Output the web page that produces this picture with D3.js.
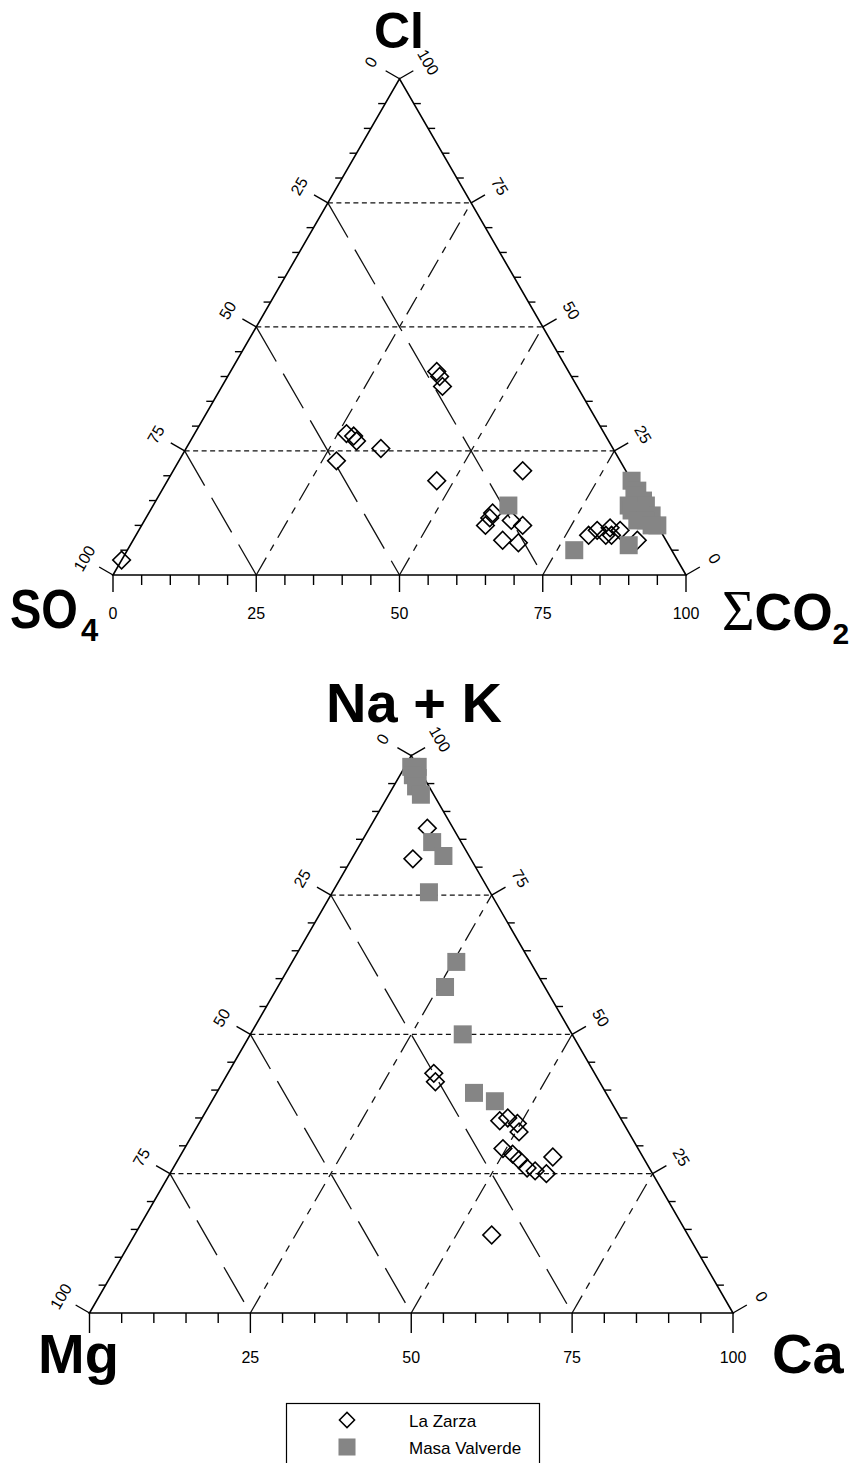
<!DOCTYPE html>
<html>
<head>
<meta charset="utf-8">
<script src="https://cdn.jsdelivr.net/npm/d3@7"></script>
<style>
  html, body { margin: 0; padding: 0; background: #fff; }
  svg { display: block; font-family: "Liberation Sans", Arial, Helvetica, sans-serif; }
</style>
</head>
<body>
<svg id="chart" width="850" height="1463"></svg>
<script>
// anion triangle, each point is [SO4, ΣCO2, Cl] in %
const laZarzaAnions = [
  [23, 36, 41], [23, 37, 40], [23.5, 38.5, 38],
  [45, 26.5, 28.5], [44, 28, 28], [44, 29, 27], [40.5, 34, 25.5], [49.5, 27.5, 23],
  [34, 47, 19], [18, 61, 21],
  [27.5, 60, 12.5], [30, 60, 10], [28.5, 60, 11.5], [25, 64, 11], [23.5, 66.5, 10],
  [28.5, 64.5, 7], [26, 67.5, 6.5],
  [13, 79, 8], [11, 80, 9], [10, 82, 8], [8.5, 82, 9.5], [9, 83, 8], [7, 84, 9], [5, 88, 7],
  [97, 0, 3]
];
const valverdeAnions = [
  [0, 81, 19], [0, 83, 17], [0, 85, 15], [0, 86, 14], [0, 88, 12],
  [1, 83, 16], [1, 85, 14], [3, 83, 14], [3, 84, 13], [3, 86, 11],
  [1.5, 87.5, 11], [0, 90, 10], [1, 89, 10], [7, 87, 6],
  [24, 62, 14], [17, 78, 5]
];
// cation triangle, each point is [Mg, Ca, Na + K] in %
const laZarzaCations = [
  [4, 9, 87], [9, 9.5, 81.5],
  [25, 32, 43], [25.5, 33, 41.5],
  [19, 46.5, 34.5], [17.5, 47.5, 35], [16.5, 49.5, 34], [17, 50.5, 32.5],
  [21, 49.5, 29.5], [20, 51.5, 28.5], [19.5, 53, 27.5], [19, 55, 26],
  [18, 56.5, 25.5], [16.5, 58.5, 25], [14, 58, 28],
  [30.5, 55.5, 14]
];
const valverdeCations = [
  [1, 1, 98], [0, 2, 98], [1.5, 2, 96.5], [1, 3, 96], [2, 3.5, 94.5], [2, 5, 93],
  [4.5, 11, 84.5], [4, 14, 82], [9.5, 15, 75.5],
  [11.5, 25.5, 63], [15.5, 26, 58.5], [17, 33, 50],
  [20.5, 40, 39.5], [18, 44, 38]
];

const gridLevels = [25, 50, 75];
const minorSteps = d3.range(0, 101, 5);
const sideLabels = [0, 25, 50, 75, 100];
const baseLabelsTop = [0, 25, 50, 75, 100];
const baseLabelsBottom = [25, 50, 75, 100];
const legendNames = ["La Zarza", "Masa Valverde"];

const GREY = "#858585";
const svg = d3.select("#chart");
const diamond = d3.symbol().type(d3.symbolSquare).size(155);
const square = d3.symbol().type(d3.symbolSquare).size(324);

function ternary(o) {
  const g = svg.append("g");
  const w = o.x1 - o.x0, h = w * Math.sqrt(3) / 2;
  const xs = d3.scaleLinear().domain([0, 100]).range([o.x0, o.x1]);
  const ys = d3.scaleLinear().domain([0, 100]).range([o.yBase, o.yBase - h]);
  // d = [left corner, right corner, apex]
  const P = (d) => {
    const s = d[0] + d[1] + d[2];
    const b = d[1] / s * 100, c = d[2] / s * 100;
    return [xs(b + c / 2), ys(c)];
  };
  const line = d3.line();
  const c30 = Math.cos(Math.PI / 6), s30 = 0.5;

  // grid
  const grid = g.append("g").attr("fill", "none").attr("stroke", "#111").attr("stroke-width", 1.3);
  grid.selectAll(".gh").data(gridLevels).join("path").attr("stroke-dasharray", "5,3.5")
    .attr("d", (v) => line([P([100 - v, 0, v]), P([0, 100 - v, v])]));
  grid.selectAll(".gl").data(gridLevels).join("path").attr("stroke-dasharray", "40,14")
    .attr("d", (v) => line([P([v, 0, 100 - v]), P([v, 100 - v, 0])]));
  grid.selectAll(".gr").data(gridLevels).join("path").attr("stroke-dasharray", "20,8,7,8")
    .attr("d", (v) => line([P([100 - v, v, 0]), P([0, v, 100 - v])]));

  // frame
  g.append("path").attr("fill", "none").attr("stroke", "#000").attr("stroke-width", 1.6)
    .attr("d", line([P([100, 0, 0]), P([0, 100, 0]), P([0, 0, 100])]) + "Z");

  // ticks
  const tk = g.append("g").attr("stroke", "#000").attr("stroke-width", 1.4);
  const major = (v) => v % 25 === 0;
  tk.selectAll(".tb").data(minorSteps).join("line")
    .attr("x1", (v) => xs(v)).attr("x2", (v) => xs(v))
    .attr("y1", o.yBase).attr("y2", (v) => o.yBase + (major(v) ? o.tick : 10));
  tk.selectAll(".tl").data(minorSteps).join("line")
    .each(function (v) {
      const p = P([v, 0, 100 - v]);
      const q = major(v) ? [p[0] - c30 * 16, p[1] - s30 * 16] : [p[0] - 7, p[1]];
      d3.select(this).attr("x1", p[0]).attr("y1", p[1]).attr("x2", q[0]).attr("y2", q[1]);
    });
  tk.selectAll(".tr").data(minorSteps).join("line")
    .each(function (v) {
      const p = P([0, 100 - v, v]);
      const q = major(v) ? [p[0] + c30 * 16, p[1] - s30 * 16] : [p[0] + 7, p[1]];
      d3.select(this).attr("x1", p[0]).attr("y1", p[1]).attr("x2", q[0]).attr("y2", q[1]);
    });

  // tick labels
  const lab = g.append("g").attr("font-size", 16).attr("fill", "#000")
    .attr("text-anchor", "middle").attr("dominant-baseline", "central");
  lab.selectAll(".ll").data(sideLabels).join("text")
    .attr("transform", (v) => {
      const p = P([v, 0, 100 - v]);
      return `translate(${p[0] - c30 * 33},${p[1] - s30 * 33}) rotate(-60)`;
    }).text((v) => v);
  lab.selectAll(".lr").data(sideLabels).join("text")
    .attr("transform", (v) => {
      const p = P([0, 100 - v, v]);
      return `translate(${p[0] + c30 * 33},${p[1] - s30 * 33}) rotate(60)`;
    }).text((v) => v);
  g.append("g").attr("font-size", 16).attr("text-anchor", "middle")
    .selectAll("text").data(o.baseLabels).join("text")
    .attr("x", (v) => xs(v)).attr("y", o.yBase + o.labelDy).text((v) => v);

  // points
  const pts = g.append("g");
  pts.selectAll(".dz").data(o.diamonds).join("path")
    .attr("d", diamond).attr("fill", "none").attr("stroke", "#000").attr("stroke-width", 1.6)
    .attr("transform", (d) => { const p = P(d); return `translate(${p[0]},${p[1]}) rotate(45)`; });
  pts.selectAll(".sq").data(o.squares).join("path")
    .attr("d", square).attr("fill", GREY)
    .attr("transform", (d) => { const p = P(d); return `translate(${p[0]},${p[1]})`; });
  return g;
}

ternary({ x0: 113, x1: 686, yBase: 575, tick: 17, labelDy: 44,
  baseLabels: baseLabelsTop, diamonds: laZarzaAnions, squares: valverdeAnions });
ternary({ x0: 89.5, x1: 733, yBase: 1313, tick: 20, labelDy: 50,
  baseLabels: baseLabelsBottom, diamonds: laZarzaCations, squares: valverdeCations });

// corner titles
const ttl = svg.append("g").attr("font-weight", "bold").attr("fill", "#000");
ttl.append("text").attr("x", 399).attr("y", 48).attr("text-anchor", "middle").attr("font-size", 50).text("Cl");
ttl.append("text").attr("transform", "translate(10,628) scale(0.84,1)").attr("font-size", 56).text("SO");
ttl.append("text").attr("x", 81).attr("y", 641).attr("font-size", 31).text("4");
const co2 = ttl.append("text").attr("x", 722).attr("y", 630).attr("font-size", 52);
co2.append("tspan").attr("font-family", "'Liberation Serif', 'Times New Roman', serif")
  .attr("font-weight", "normal").attr("font-size", 56).text("Σ");
co2.append("tspan").text("CO");
co2.append("tspan").attr("font-size", 30).attr("dy", 14).text("2");
ttl.append("text").attr("x", 414).attr("y", 722).attr("text-anchor", "middle").attr("font-size", 56).text("Na + K");
ttl.append("text").attr("x", 38).attr("y", 1373).attr("font-size", 56).text("Mg");
ttl.append("text").attr("x", 772).attr("y", 1373).attr("font-size", 56).text("Ca");

// legend
const lg = svg.append("g");
lg.append("rect").attr("x", 286.5).attr("y", 1403.5).attr("width", 253).attr("height", 80)
  .attr("fill", "#fff").attr("stroke", "#000").attr("stroke-width", 1.2);
const li = lg.selectAll(".li").data(legendNames).join("g")
  .attr("transform", (d, i) => `translate(347,${1420 + i * 27})`);
li.append("path")
  .attr("d", (d, i) => d3.symbol().type(d3.symbolSquare).size(i === 0 ? 115 : 290)())
  .attr("transform", (d, i) => i === 0 ? "rotate(45)" : null)
  .attr("fill", (d, i) => i === 0 ? "none" : GREY)
  .attr("stroke", (d, i) => i === 0 ? "#000" : "none").attr("stroke-width", 1.5);
li.append("text").attr("x", 62).attr("y", 7).attr("font-size", 17).text((d) => d);
</script>
</body>
</html>
